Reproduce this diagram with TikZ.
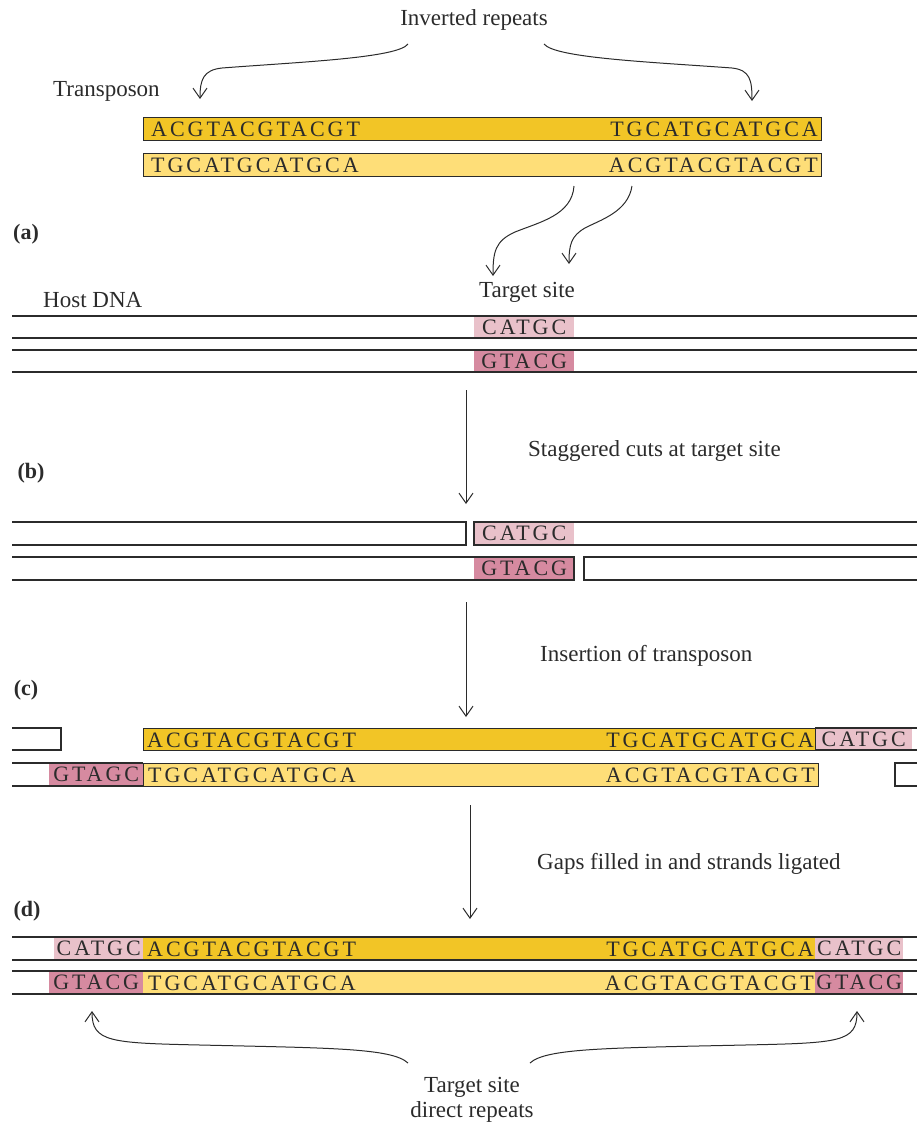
\documentclass[tikz,border=0pt]{standalone}
\usepackage{fontspec}
\setmainfont{Liberation Serif}
\newfontfamily\seqfont[LetterSpace=13.5]{Liberation Serif}
\usetikzlibrary{arrows.meta}
\definecolor{gold}{HTML}{F2C526}
\definecolor{ylw}{HTML}{FEDE78}
\definecolor{lpink}{HTML}{E9C1CA}
\definecolor{dpink}{HTML}{D68AA0}
\definecolor{ink}{HTML}{2B2B2B}
\begin{document}
\begin{tikzpicture}[x=1pt,y=-1pt,
  lbl/.style={font=\fontsize{23}{26}\selectfont, inner sep=0pt, text=ink},
  lblb/.style={font=\bfseries\fontsize{22}{25}\selectfont, inner sep=0pt, text=ink},
  seq/.style={font=\seqfont\fontsize{22}{24}\selectfont, inner sep=0pt, text=ink},
  strand/.style={draw=ink, line width=1.3pt, inner sep=0pt, minimum height=23pt, anchor=north west},
  patch/.style={inner sep=0pt, minimum height=22pt, anchor=north west, font=\seqfont\fontsize{22}{24}\selectfont, text=ink},
  hline/.style={draw=ink, line width=1.3pt},
  arr/.style={draw=ink, line width=1pt, -{Straight Barb[length=10pt,width=14pt]}}]
\useasboundingbox (0,0) rectangle (917,1122);

% ---------- top: transposon
\node[lbl] (inv) at (474,20) {Inverted repeats};
\coordinate (invL) at (408,44);
\coordinate (invR) at (544,44);
\coordinate (tipL) at (200,99);
\coordinate (tipR) at (752,101);
\draw[arr] (invL) .. controls (398,58) and (300,62) .. (222,68) .. controls (203,70) and (200,80) .. (tipL);
\draw[arr] (invR) .. controls (555,58) and (650,62) .. (732,68) .. controls (750,70) and (752,80) .. (tipR);
\node[lbl, anchor=base west] (tn) at (53,96) {Transposon};

\node[strand, fill=gold, minimum width=678pt] (t1) at (143,117) {};
\node[strand, fill=ylw, minimum width=678pt] (t2) at (143,153) {};
\node[seq, anchor=base west] (t1a) at (151,136) {ACGTACGTACGT};
\node[seq, anchor=base east] (t1b) at (818,136) {TGCATGCATGCA};
\node[seq, anchor=base west] (t2a) at (151,172) {TGCATGCATGCA};
\node[seq, anchor=base east] (t2b) at (818,172) {ACGTACGTACGT};

\coordinate (s1) at (574,186);
\coordinate (s2) at (632,186);
\coordinate (d1) at (493,276);
\coordinate (d2) at (569,264);
\draw[arr] (s1) .. controls (572,215) and (540,222) .. (515,232) .. controls (495,241) and (493,252) .. (d1);
\draw[arr] (s2) .. controls (628,212) and (600,220) .. (585,228) .. controls (571,236) and (569,245) .. (d2);

\node[lblb] (la) at (26,234) {(a)};

% ---------- (a) host DNA
\node[lbl, anchor=base west] (host) at (43,307) {Host DNA};
\node[lbl] (tsite) at (527,292) {Target site};
\node[patch, fill=lpink, minimum width=100pt] (a1) at (474,316) {CATGC};
\node[patch, fill=dpink, minimum width=100pt] (a2) at (474,350) {GTACG};
\draw[hline] (12,316) -- (917,316) (12,338) -- (917,338);
\draw[hline] (12,350) -- (917,350) (12,372) -- (917,372);

\coordinate (ab1) at (466,390);
\coordinate (ab2) at (466,504);
\draw[arr] (ab1) -- (ab2);
\node[lbl, anchor=west] (stag) at (528,451) {Staggered cuts at target site};
\node[lblb] (lb) at (31,473) {(b)};

% ---------- (b) staggered cuts
\node[patch, fill=lpink, minimum width=100pt, minimum height=23pt] (b1) at (474,522) {CATGC};
\node[patch, fill=dpink, minimum width=100pt, minimum height=23pt] (b2) at (474,557) {GTACG};
\draw[hline] (12,522) -- (466,522) -- (466,545) -- (12,545);
\draw[hline] (917,522) -- (474,522) -- (474,545) -- (917,545);
\draw[hline] (12,557) -- (574,557) -- (574,580) -- (12,580);
\draw[hline] (917,557) -- (584,557) -- (584,580) -- (917,580);

\coordinate (bc1) at (466,602);
\coordinate (bc2) at (466,717);
\draw[arr] (bc1) -- (bc2);
\node[lbl, anchor=west] (ins) at (540,656) {Insertion of transposon};
\node[lblb] (lc) at (26,690) {(c)};

% ---------- (c) insertion
\draw[hline] (12,728) -- (61,728) -- (61,750) -- (12,750);
\node[patch, fill=lpink, minimum width=97pt] (c3) at (815,728) {CATGC};
\draw[hline] (815,728) -- (917,728) (815,750) -- (917,750);
\node[strand, fill=gold, minimum width=672pt, minimum height=22pt] (c1) at (143,728) {};
\node[seq, anchor=base west] (c1a) at (147,747) {ACGTACGTACGT};
\node[seq, anchor=base east] (c1b) at (814,747) {TGCATGCATGCA};

\node[patch, fill=dpink, minimum width=94pt, minimum height=23pt] (c4) at (49,763) {GTAGC};
\draw[hline] (12,763) -- (143,763) (12,786) -- (143,786);
\node[strand, fill=ylw, minimum width=675pt] (c2) at (143,763) {};
\node[seq, anchor=base west] (c2a) at (148,782) {TGCATGCATGCA};
\node[seq, anchor=base east] (c2b) at (815,782) {ACGTACGTACGT};
\draw[hline] (917,763) -- (895,763) -- (895,786) -- (917,786);

\coordinate (cd1) at (470,805);
\coordinate (cd2) at (470,919);
\draw[arr] (cd1) -- (cd2);
\node[lbl, anchor=west] (gaps) at (537,864) {Gaps filled in and strands ligated};
\node[lblb] (ld) at (27,911) {(d)};

% ---------- (d) ligated
\node[patch, fill=lpink, minimum width=89pt, minimum height=23pt] (e1) at (54,937) {CATGC};
\node[patch, fill=gold, minimum width=672pt, minimum height=23pt] (e2) at (143,937) {};
\node[patch, fill=lpink, minimum width=88pt, minimum height=23pt] (e3) at (815,937) {CATGC};
\node[patch, fill=dpink, minimum width=94pt, minimum height=23pt] (e4) at (49,971) {GTACG};
\node[patch, fill=ylw, minimum width=672pt, minimum height=23pt] (e5) at (143,971) {};
\node[patch, fill=dpink, minimum width=88pt, minimum height=23pt] (e6) at (815,971) {GTACG};
\node[seq, anchor=base west] (e2a) at (147,956) {ACGTACGTACGT};
\node[seq, anchor=base east] (e2b) at (814,956) {TGCATGCATGCA};
\node[seq, anchor=base west] (e5a) at (148,990) {TGCATGCATGCA};
\node[seq, anchor=base east] (e5b) at (814,990) {ACGTACGTACGT};
\draw[hline] (12,937) -- (917,937) (12,960) -- (917,960);
\draw[hline] (12,971) -- (917,971) (12,994) -- (917,994);

% ---------- bottom arrows
\node[lbl, align=center] (tdr) at (472,1100) {Target site\\[-1pt]direct repeats};
\coordinate (bl) at (408,1063);
\coordinate (br) at (530,1063);
\coordinate (upL) at (92,1011);
\coordinate (upR) at (857,1011);
\draw[arr] (bl) .. controls (392,1048) and (330,1048) .. (200,1045) .. controls (110,1043) and (92,1042) .. (upL);
\draw[arr] (br) .. controls (546,1048) and (610,1048) .. (745,1045) .. controls (840,1043) and (857,1042) .. (upR);
\end{tikzpicture}
\end{document}
